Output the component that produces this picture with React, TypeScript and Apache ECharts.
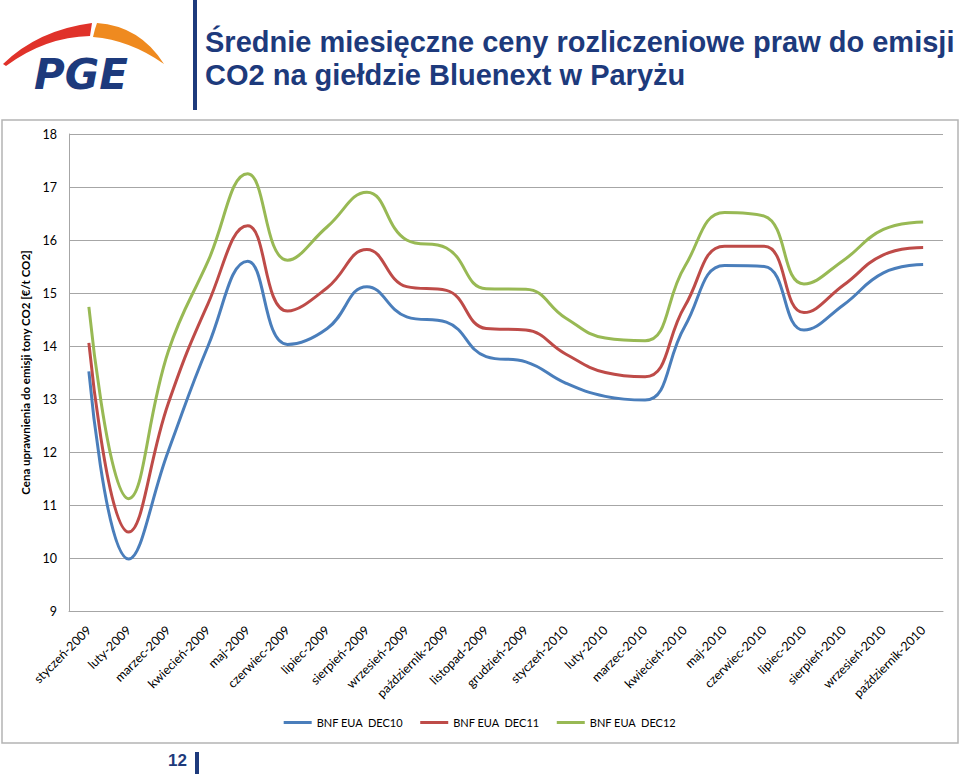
import React, { useEffect, useRef } from "react";
import * as echarts from "echarts";

const categories = [
  "styczeń-2009", "luty-2009", "marzec-2009", "kwiecień-2009", "maj-2009", "czerwiec-2009",
  "lipiec-2009", "sierpień-2009", "wrzesień-2009", "październik-2009", "listopad-2009", "grudzień-2009",
  "styczeń-2010", "luty-2010", "marzec-2010", "kwiecień-2010", "maj-2010", "czerwiec-2010",
  "lipiec-2010", "sierpień-2010", "wrzesień-2010", "październik-2010",
];
const dec10 = [13.52, 9.98, 12.02, 14.0, 15.6, 14.03, 14.33, 15.12, 14.55, 14.45, 13.8, 13.7, 13.3, 13.05, 12.98, 14.37, 15.52, 15.5, 14.3, 14.78, 15.38, 15.54];
const dec11 = [14.06, 10.49, 12.92, 14.8, 16.27, 14.66, 15.1, 15.82, 15.12, 15.05, 14.33, 14.3, 13.85, 13.5, 13.42, 14.75, 15.88, 15.88, 14.63, 15.15, 15.72, 15.86];
const dec12 = [14.74, 11.12, 13.9, 15.6, 17.25, 15.62, 16.25, 16.9, 16.0, 15.85, 15.08, 15.07, 14.53, 14.15, 14.1, 15.5, 16.52, 16.45, 15.17, 15.62, 16.2, 16.34];
const seriesNames = ["BNF EUA  DEC10", "BNF EUA  DEC11", "BNF EUA  DEC12"];
const seriesColors = ["#4a7ebb", "#be4b48", "#98b954"];
const titleLines = ["Średnie miesięczne ceny rozliczeniowe praw do emisji", "CO2 na giełdzie Bluenext w Paryżu"];
const yAxisName = "Cena uprawnienia do emisji tony CO2 [€/t CO2]";
const pageNumber = "12";

const NAVY = "#1d3a7c";

echarts.graphic.registerShape(
  "pgeRed",
  echarts.graphic.extendPath("M3,64 Q38,30 92,23 L90,36 Q45,37 6,66 Z", {})
);
echarts.graphic.registerShape(
  "pgeOrange",
  echarts.graphic.extendPath("M95,29 L97,23 Q140,26 164,64 Q130,40 93,37 Z", {})
);

export default function App() {
  const ref = useRef<HTMLDivElement>(null);
  useEffect(() => {
    const chart = echarts.init(ref.current!, null, { renderer: "svg" });
    const data = [dec10, dec11, dec12];
    chart.setOption({
      animation: false,
      backgroundColor: "#ffffff",
      textStyle: { fontFamily: "Lato" },
      grid: { left: 69, right: 17, top: 134, bottom: 163, containLabel: false },
      legend: {
        bottom: 41,
        left: "center",
        icon: "rect",
        itemWidth: 28,
        itemHeight: 3,
        itemGap: 17,
        textStyle: { fontFamily: "Lato", fontSize: 11, color: "#000" },
        data: seriesNames,
      },
      xAxis: {
        type: "category",
        data: categories,
        boundaryGap: true,
        axisLine: { lineStyle: { color: "#a6a6a6", width: 1 } },
        axisTick: { show: false },
        axisLabel: { interval: 0, rotate: 45, fontSize: 12.5, color: "#000", margin: 17, fontFamily: "Lato" },
      },
      yAxis: {
        type: "value",
        min: 9,
        max: 18,
        interval: 1,
        name: yAxisName,
        nameLocation: "middle",
        nameGap: 36,
        nameTextStyle: { fontWeight: "bold", fontSize: 11.5, color: "#000", fontFamily: "Lato" },
        axisLine: { show: true, lineStyle: { color: "#a6a6a6" } },
        axisTick: { show: false },
        splitLine: { lineStyle: { color: "#a6a6a6", width: 1 } },
        axisLabel: { fontSize: 12.5, color: "#000", margin: 12, fontFamily: "Lato" },
      },
      series: seriesNames.map((n, i) => ({
        name: n,
        type: "line",
        data: data[i],
        smooth: 0.45,
        symbol: "none",
        showSymbol: false,
        lineStyle: { color: seriesColors[i], width: 3 },
        itemStyle: { color: seriesColors[i] },
      })),
      graphic: [
        { type: "rect", shape: { x: 2, y: 120, width: 956, height: 623 }, style: { fill: "none", stroke: "#b4b4b4", lineWidth: 1.5 }, z: -1 },
        { type: "rect", shape: { x: 193, y: 0, width: 4, height: 110 }, style: { fill: NAVY } },
        { type: "text", x: 205, y: 27, style: { text: titleLines[0], font: "bold 29px 'Liberation Sans', Arial, sans-serif", fill: NAVY } },
        { type: "text", x: 205, y: 60, style: { text: titleLines[1], font: "bold 29px 'Liberation Sans', Arial, sans-serif", fill: NAVY } },
        { type: "pgeRed", x: 0, y: 0, style: { fill: "#e0322a" } },
        { type: "pgeOrange", x: 0, y: 0, style: { fill: "#ef8a1f" } },
        { type: "text", x: 34, y: 53, style: { text: "PGE", font: "italic bold 42px 'DejaVu Sans', sans-serif", fill: NAVY } },
        { type: "text", x: 168, y: 752, style: { text: pageNumber, font: "bold 17px 'Liberation Sans', Arial, sans-serif", fill: NAVY } },
        { type: "rect", shape: { x: 195, y: 752, width: 4, height: 22 }, style: { fill: NAVY } },
      ],
    });
    return () => chart.dispose();
  }, []);
  return <div ref={ref} style={{ position: "fixed", left: 0, top: 0, width: 960, height: 774 }} />;
}
